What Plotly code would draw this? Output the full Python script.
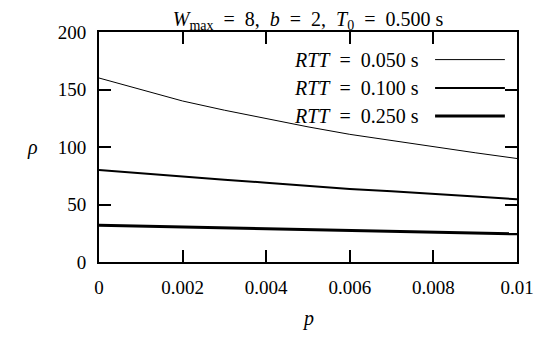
import plotly.graph_objects as go

# Data
p_values = [0.000, 0.001, 0.002, 0.003, 0.004, 0.005, 0.006, 0.007, 0.008, 0.009, 0.010]
rho_rtt_050 = [160, 150, 140, 132, 124.5, 117.5, 111, 105.5, 100, 95, 90]
rho_rtt_100 = [80, 77, 74.5, 71.5, 69, 66, 63.5, 61.5, 59.5, 57, 54.5]
rho_rtt_250 = [32, 31.3, 30.6, 29.9, 29.2, 28.5, 27.8, 27.1, 26.3, 25.5, 24.5]

series_names = ["<i>RTT</i>&nbsp; = &nbsp;0.050 s",
                "<i>RTT</i>&nbsp; = &nbsp;0.100 s",
                "<i>RTT</i>&nbsp; = &nbsp;0.250 s"]
series_values = [rho_rtt_050, rho_rtt_100, rho_rtt_250]
line_widths = [1, 2, 3]

x_tickvals = [0, 0.002, 0.004, 0.006, 0.008, 0.010]
x_ticktext = ["0", "0.002", "0.004", "0.006", "0.008", "0.01"]
y_tickvals = [0, 50, 100, 150, 200]
y_ticktext = ["0", "50", "100", "150", "200"]

title_text = ("<i>W</i><sub>max</sub>&nbsp; = &nbsp;8, &nbsp;<i>b</i>&nbsp; = &nbsp;2, "
              "&nbsp;<i>T</i><sub>0</sub>&nbsp; = &nbsp;0.500 s")

FONT = "'Times New Roman', 'Liberation Serif', 'Noto Serif', 'DejaVu Serif', serif"
FS = 20
TICK_FS = 19

fig = go.Figure()
for name, vals, lw in zip(series_names, series_values, line_widths):
    fig.add_trace(go.Scatter(x=p_values, y=vals, mode="lines", name=name,
                             line=dict(color="black", width=lw), showlegend=False))

# Custom legend (text on left, line sample on right, as in gnuplot)
leg_y = [0.880, 0.757, 0.635]
for name, lw, yy in zip(series_names, line_widths, leg_y):
    fig.add_annotation(x=0.770, y=yy, xref="paper", yref="paper", text=name,
                       showarrow=False, xanchor="right", yanchor="middle",
                       font=dict(family=FONT, size=FS, color="black"))
    fig.add_shape(type="line", xref="paper", yref="paper", x0=0.804, x1=0.971,
                  y0=yy, y1=yy, line=dict(color="black", width=lw))

# Axis titles as annotations (y label horizontal)
fig.add_annotation(x=-0.158, y=0.5, xref="paper", yref="paper", text="<i>ρ</i>",
                   showarrow=False, xanchor="center", yanchor="middle",
                   font=dict(family=FONT, size=FS, color="black"))
fig.add_annotation(x=0.5, y=-0.245, xref="paper", yref="paper", text="<i>p</i>",
                   showarrow=False, xanchor="center", yanchor="middle",
                   font=dict(family=FONT, size=FS, color="black"))

axis_common = dict(showline=True, linewidth=2, linecolor="black", mirror="allticks",
                   ticks="inside", ticklen=12, tickwidth=2, tickcolor="black",
                   showgrid=False, zeroline=False, automargin=False,
                   tickfont=dict(family=FONT, size=TICK_FS, color="black"))

fig.update_xaxes(range=[0, 0.01], tickvals=x_tickvals, ticktext=x_ticktext,
                 ticklabelstandoff=7, **axis_common)
fig.update_yaxes(range=[0, 200], tickvals=y_tickvals, ticktext=y_ticktext,
                 ticklabelstandoff=7, **axis_common)

# The page body has an 8px margin, so the figure is offset by 8px.
fig.update_layout(
    width=534, height=333,
    margin=dict(l=91, r=25, t=24, b=79, autoexpand=False),
    paper_bgcolor="white", plot_bgcolor="white",
    title=dict(text=title_text, xref="paper", x=0.5, xanchor="center",
               y=0.968, yanchor="middle",
               font=dict(family=FONT, size=FS, color="black")),
    font=dict(family=FONT, size=FS, color="black"),
)

fig.write_html("out.html")
